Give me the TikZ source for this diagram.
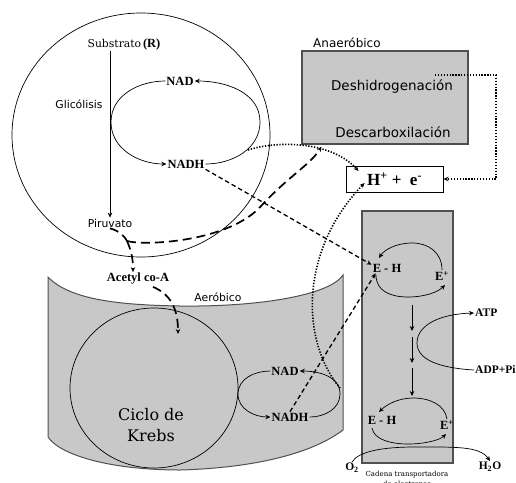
\documentclass[tikz,border=0pt]{standalone}
\usepackage{fontspec}
\setmainfont{DejaVu Serif}
\setsansfont{DejaVu Sans}
\newfontfamily\tms{Liberation Serif}
\usetikzlibrary{arrows.meta,calc}
\newcommand\fsz[2]{\fontsize{#1}{#2}\selectfont}
\definecolor{boxgray}{RGB}{200,200,200}
\definecolor{edgegray}{RGB}{80,80,80}
\begin{document}
\begin{tikzpicture}[x=1pt,y=-1pt,
  every node/.style={inner sep=1pt},
  ln/.style={line width=0.7pt},
  arr/.style={-{Stealth[length=5pt,width=4.5pt]}},
  dsh/.style={dash pattern=on 4.5pt off 3pt, line width=1.3pt},
  ldsh/.style={dash pattern=on 9pt off 5pt, line width=1.7pt},
  dotln/.style={dash pattern=on 1.3pt off 1.6pt, line width=1.6pt},
  gbox/.style={draw=edgegray, line width=1.2pt, fill=boxgray},
  bl/.style={font=\tms\bfseries\fsz{12.5}{14}},
  bls/.style={font=\tms\bfseries\fsz{11.5}{13}},
  sl/.style={font=\sffamily\fsz{10.8}{13}},
  bigs/.style={font=\sffamily\fsz{13.5}{16}}
]
\useasboundingbox (0,0) rectangle (516,482);

% ---- aerobic cylinder
\draw[fill=boxgray, draw=edgegray, line width=1pt]
  (48,277) .. controls (70,300) and (120,305) .. (180,306)
  .. controls (260,307) and (330,295) .. (343,275)
  -- (343,430) .. controls (310,455) and (250,468) .. (180,470)
  .. controls (110,470) and (60,455) .. (48,437) -- cycle;

% ---- electron transport column
\node[gbox, minimum width=91pt, minimum height=252pt] (etc) at (407.5,337) {};

% ---- anaerobic box
\node[gbox, minimum width=166pt, minimum height=93pt] (anbox) at (385,97.5) {};
\node[sl, font=\sffamily\fsz{12}{14}, anchor=west] (anlab) at (312,43) {Anaeróbico};
\node[bigs] (deshi) at (392,87) {Deshidrogenación};
\node[bigs] (desca) at (393,132) {Descarboxilación};

% ---- glycolysis circle
\draw[ln] (141,135) ellipse [x radius=129, y radius=122];

% ---- Krebs circle
\draw[ln] (154,388) ellipse [x radius=84, y radius=80];
\node[font=\fsz{16}{21}, align=center] (krebs) at (151,425) {Ciclo de\\Krebs};
\node[sl] (aerlab) at (218,297) {Aeróbico};

% ---- glycolysis texts
\node (sub) at (124,44) {\fsz{10.8}{13}Substrato\,{\tms\bfseries\fsz{12.5}{14}(R)}};
\node[sl] (glic) at (79,104) {Glicólisis};
\node[sl] (piru) at (110,223) {Piruvato};
\draw[ln,arr] (piru.north |- sub.south) -- (piru.north);

% ---- top NAD / NADH loop
\node[bl] (nad) at (180,81) {NAD};
\node[bl] (nadh) at (186,164) {NADH};
\coordinate (tl) at (111,122);
\coordinate (tr) at (260,122);
\draw[ln,arr] (nad.west) to[out=180,in=90] (tl) to[out=-90,in=180] (nadh.west);
\draw[ln,arr] (nadh.east) to[out=0,in=-90] (tr) to[out=90,in=0] (nad.east);

% ---- H+ + e- box
\node[draw, line width=0.9pt, fill=white, minimum width=97pt, minimum height=26pt,
      font=\tms\bfseries\fsz{17}{18}] (hbox) at (394.5,179)
      {H\textsuperscript{+} + \ e\textsuperscript{-}};

% ---- Acetyl co-A
\node[bl] (acet) at (138,279) {Acetyl co-A};

% ---- aerobic NAD / NADH loop
\node[bl] (nad2) at (285,371) {NAD};
\node[bl] (nadh2) at (290,417) {NADH};
\coordinate (bl2) at (238,394);
\coordinate (br2) at (340,394);
\draw[ln,arr] (nad2.west) to[out=180,in=90] (bl2) to[out=-90,in=180] (nadh2.west);
\draw[ln,arr] (nadh2.east) to[out=0,in=-90] (br2) to[out=90,in=0] (nad2.east);

% ---- electron transport chain contents
\node[bl] (eh1) at (387,268) {E - H};
\node[bl] (ep1) at (442,276) {E\textsuperscript{+}};
\node[bl] (eh2) at (382,420) {E - H};
\node[bl] (ep2) at (447,425) {E\textsuperscript{+}};
\draw[ln,arr] (ep1.north) .. controls (442,252) and (428,243) .. (412,243)
   .. controls (396,243) and (384,250) .. (379,258);
\draw[ln,arr] (376,275) .. controls (376,292) and (392,297) .. (408,297)
   .. controls (425,297) and (438,292) .. (445,285);
\draw[ln,arr] (ep2.north) .. controls (445,405) and (430,398) .. (413,398)
   .. controls (398,398) and (386,405) .. (379,412);
\draw[ln,arr] (372,428) .. controls (374,440) and (392,444) .. (408,444)
   .. controls (425,444) and (440,440) .. (446,434);

\coordinate (v1) at (412,305);
\coordinate (v2) at (412,331);
\coordinate (v3) at (412,337);
\coordinate (v4) at (412,363);
\coordinate (v5) at (412,368);
\coordinate (v6) at (412,396);
\draw[ln,arr] (v1) -- (v2);
\draw[ln,arr] (v3) -- (v4);
\draw[ln,arr] (v5) -- (v6);

\node[bls, anchor=west] (atp) at (474,313) {ATP};
\node[bls, anchor=west] (adp) at (474,370) {ADP+Pi};
\draw[ln,arr] (adp.west) .. controls (440,368) and (417,360) .. (417,343)
   .. controls (417,325) and (440,314) .. (atp.west);

\node[bls] (o2) at (352,468) {O\textsubscript{2}};
\node[bls] (h2o) at (490,467) {H\textsubscript{2}O};
\draw[ln,arr] (o2.north) .. controls (358,452) and (380,447) .. (415,447)
   .. controls (455,447) and (480,446) .. (h2o.north);

\node[font=\fsz{7}{10}, align=center] (cadena) at (407,479) {Cadena transportadora\\de electrones};

% ---- dashed connectors
\draw[dsh,arr] (nadh.south east) -- (eh1.168);
\draw[dsh,arr] (nadh2.north) -- (eh1.205);

\coordinate (pj) at (127,241);
\draw[ldsh] (piru.south) .. controls (120,231) and (125,237) .. (pj);
\draw[ldsh,arr] (pj) .. controls (145,246) and (230,242) .. (262,205)
   .. controls (290,175) and (310,165) .. ($(anbox.south west)+(20,2)$);
\draw[ldsh,arr] (pj) .. controls (131,250) and (133,258) .. ($(acet.north)+(-5,0)$);
\coordinate (kin) at (178,334);
\draw[ldsh,arr] ($(acet.south)+(15,1)$) .. controls (170,294) and (178,308) .. (kin);

% ---- dotted connectors
\coordinate (ds) at (435,75);
\draw[dotln,arr] (ds) -- ++(61,0) |- (hbox.east);
\coordinate (d1) at (248,150);
\draw[dotln,arr] (d1) .. controls (275,141) and (330,140) .. ($(hbox.west)+(13,-8)$);
\coordinate (d2) at (340,388);
\draw[dotln,arr] (d2) .. controls (300,340) and (300,250) .. ($(hbox.west)+(19,4)$);
\end{tikzpicture}
\end{document}
